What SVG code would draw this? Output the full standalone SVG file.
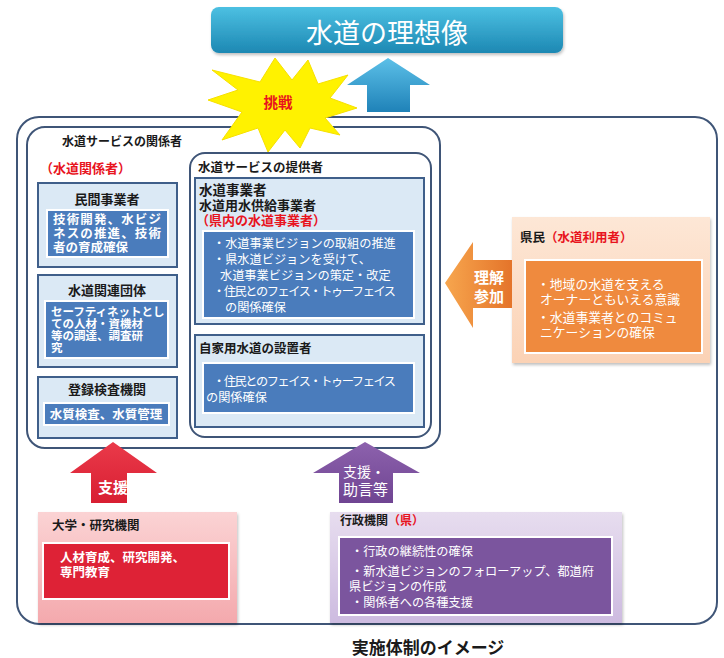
<svg xmlns="http://www.w3.org/2000/svg" width="724" height="658" viewBox="0 0 724 658">
<defs>
<linearGradient id="gTitle" x1="0" y1="0" x2="0" y2="1"><stop offset="0" stop-color="#4cc0e2"/><stop offset="1" stop-color="#1d88b3"/></linearGradient>
<linearGradient id="gBlueArr" x1="0" y1="0" x2="0" y2="1"><stop offset="0" stop-color="#5cc0e8"/><stop offset="1" stop-color="#1f82b8"/></linearGradient>
<linearGradient id="gOrArr" x1="0" y1="0" x2="1" y2="0"><stop offset="0" stop-color="#f7a64e"/><stop offset="1" stop-color="#e4742a"/></linearGradient>
<linearGradient id="gRedArr" x1="0" y1="0" x2="0" y2="1"><stop offset="0" stop-color="#ea3a4a"/><stop offset="1" stop-color="#d81e32"/></linearGradient>
<linearGradient id="gPurArr" x1="0" y1="0" x2="0" y2="1"><stop offset="0" stop-color="#8d62ad"/><stop offset="1" stop-color="#6f4492"/></linearGradient>
<linearGradient id="gPeach" x1="0" y1="0" x2="0" y2="1"><stop offset="0" stop-color="#fde7d6"/><stop offset="1" stop-color="#fbd2b5"/></linearGradient>
<linearGradient id="gPink" x1="0" y1="0" x2="0" y2="1"><stop offset="0" stop-color="#fbd3d4"/><stop offset="1" stop-color="#f4a9ad"/></linearGradient>
<linearGradient id="gLav" x1="0" y1="0" x2="0" y2="1"><stop offset="0" stop-color="#e7ddef"/><stop offset="1" stop-color="#cdbbe0"/></linearGradient>
<filter id="sh" x="-5%" y="-5%" width="110%" height="115%"><feDropShadow dx="1" dy="2" stdDeviation="1.5" flood-color="#000" flood-opacity="0.25"/></filter>
<style>
text{font-family:"Noto Sans CJK JP","Noto Sans",sans-serif;}
.b{font-weight:bold}
.w{fill:#ffffff}
.k{fill:#1a1a1a}
.r{fill:#e8141e}
.frame{fill:#ffffff;stroke:#3f5577;stroke-width:2}
.sub{fill:#dbe9f5;stroke:#3f5f8a;stroke-width:2}
.blue{fill:#4a7cbc;stroke:#ffffff;stroke-width:2}
</style>
</defs>
<rect width="724" height="658" fill="#ffffff"/>

<g id="outer">
<rect class="frame" x="17" y="117" width="700" height="507" rx="22"/>
</g>

<g id="ideal">
<rect x="211" y="7" width="352" height="46" rx="8" fill="url(#gTitle)" filter="url(#sh)"/>
<text x="387" y="43" font-size="27" text-anchor="middle" class="w">水道の理想像</text>
</g>

<g id="stakeholders">
<rect class="frame" x="27" y="127" width="413" height="321" rx="18"/>
<text x="122" y="146" font-size="12" class="b k" text-anchor="middle">水道サービスの関係者</text>
<text x="40" y="173" font-size="13" class="b r">（水道関係者）</text>
</g>

<g id="private">
<rect class="sub" x="38" y="183" width="139" height="84"/>
<text x="107" y="204" font-size="13" class="b k" text-anchor="middle">民間事業者</text>
<rect class="blue" x="47" y="210" width="121" height="47"/>
<text x="53" y="224" font-size="12.5" class="b w" textLength="108">技術開発、水ビジ</text>
<text x="53" y="238" font-size="12.5" class="b w" textLength="108">ネスの推進、技術</text>
<text x="53" y="252" font-size="12.5" class="b w">者の育成確保</text>
</g>

<g id="assoc">
<rect class="sub" x="38" y="275" width="139" height="92"/>
<text x="107" y="295" font-size="13" class="b k" text-anchor="middle">水道関連団体</text>
<rect class="blue" x="45" y="301" width="123" height="57"/>
<text x="51" y="316" font-size="11.5" class="b w">セーフティネットとし</text>
<text x="51" y="328" font-size="11.5" class="b w">ての人材・資機材</text>
<text x="51" y="340" font-size="11.5" class="b w">等の調達、調査研</text>
<text x="51" y="352" font-size="11.5" class="b w">究</text>
</g>

<g id="inspect">
<rect class="sub" x="38" y="377" width="139" height="61"/>
<text x="107" y="394" font-size="13" class="b k" text-anchor="middle">登録検査機関</text>
<rect class="blue" x="44" y="403" width="125" height="22"/>
<text x="106" y="419" font-size="12.5" class="b w" text-anchor="middle">水質検査、水質管理</text>
</g>

<g id="providers">
<rect class="frame" x="190" y="153" width="241" height="284" rx="15"/>
<text x="198" y="172" font-size="12.5" class="b k">水道サービスの提供者</text>
</g>

<g id="utilities">
<rect class="sub" x="195" y="178" width="229" height="146"/>
<text x="199" y="195" font-size="13.5" class="b k">水道事業者</text>
<text x="199" y="210" font-size="13" class="b k">水道用水供給事業者</text>
<text x="196" y="225" font-size="13" class="b r">（県内の水道事業者）</text>
<rect class="blue" x="203" y="231" width="211" height="87"/>
<text x="213" y="248" font-size="12.2" class="w">・水道事業ビジョンの取組の推進</text>
<text x="213" y="264" font-size="12.2" class="w">・県水道ビジョンを受けて、</text>
<text x="220" y="280" font-size="12.2" class="w">水道事業ビジョンの策定・改定</text>
<text x="213" y="296" font-size="12.2" class="w" textLength="183">・住民とのフェイス・トゥーフェイス</text>
<text x="225" y="312" font-size="12.2" class="w">の関係確保</text>
</g>

<g id="private-water">
<rect class="sub" x="195" y="335" width="229" height="92"/>
<text x="199" y="353" font-size="12.5" class="b k">自家用水道の設置者</text>
<rect class="blue" x="203" y="363" width="211" height="50"/>
<text x="213" y="386" font-size="12.2" class="w" textLength="183">・住民とのフェイス・トゥーフェイス</text>
<text x="206" y="402" font-size="12.2" class="w">の関係確保</text>
</g>

<g id="citizens">
<rect x="512" y="217" width="198" height="146" fill="url(#gPeach)" filter="url(#sh)"/>
<text x="520" y="242" font-size="12.5" class="b"><tspan class="k">県民</tspan><tspan class="r">（水道利用者）</tspan></text>
<rect x="525" y="260" width="177" height="93" fill="#ef8a3e" stroke="#ffffff" stroke-width="2"/>
<text x="537" y="289" font-size="12.8" class="w">・地域の水道を支える</text>
<text x="540" y="304" font-size="12.8" class="w">オーナーともいえる意識</text>
<text x="537" y="322" font-size="12.8" class="w">・水道事業者とのコミュ</text>
<text x="540" y="337" font-size="12.8" class="w">ニケーションの確保</text>
</g>

<g id="university">
<rect x="38" y="512" width="199" height="111" fill="url(#gPink)" filter="url(#sh)"/>
<text x="52" y="530" font-size="12.5" class="b k">大学・研究機関</text>
<rect x="43" y="543" width="186" height="56" fill="#de2236" stroke="#ffffff" stroke-width="2"/>
<text x="60" y="562" font-size="12.5" class="b w">人材育成、研究開発、</text>
<text x="60" y="577" font-size="12.5" class="b w">専門教育</text>
</g>

<g id="government">
<rect x="330" y="512" width="292" height="111" fill="url(#gLav)" filter="url(#sh)"/>
<text x="340" y="525" font-size="12" class="b"><tspan class="k">行政機関</tspan><tspan class="r">（県）</tspan></text>
<rect x="339" y="537" width="273" height="78" fill="#7b559e" stroke="#ffffff" stroke-width="2"/>
<text x="351" y="556" font-size="12.2" class="w">・行政の継続性の確保</text>
<text x="351" y="576" font-size="12.2" class="w" textLength="243">・新水道ビジョンのフォローアップ、都道府</text>
<text x="349" y="591" font-size="12.2" class="w">県ビジョンの作成</text>
<text x="351" y="607" font-size="12.2" class="w">・関係者への各種支援</text>
</g>

<g id="connectors">
<g id="challenge">
<polygon points="275,58 292,80 308,60 318,84 348,75 330,98 357,108 325,118 340,135 310,128 300,148 285,130 268,152 258,128 222,140 242,112 208,100 238,90 212,70 260,82" fill="#fff200" stroke="#f7e000" stroke-width="1"/>
<text x="278" y="108" font-size="14.5" class="b r" text-anchor="middle">挑戦</text>
</g>
<polygon id="up-blue" points="388,58 430,85 410,85 410,112 367,112 367,85 347,85" fill="url(#gBlueArr)"/>
<g id="arr-citizens">
<polygon points="445,283 473,242 473,260 512,260 512,308 473,308 473,328" fill="url(#gOrArr)"/>
<text x="489" y="283" font-size="15" class="b w" text-anchor="middle">理解</text>
<text x="489" y="302" font-size="15" class="b w" text-anchor="middle">参加</text>
</g>
<g id="arr-univ">
<polygon points="113,442 157,473 127,473 127,503 91,503 91,473 70,473" fill="url(#gRedArr)"/>
<text x="113" y="493" font-size="15" class="b w" text-anchor="middle">支援</text>
</g>
<g id="arr-gov">
<polygon points="365,442 420,473 393,473 393,503 339,503 339,473 313,473" fill="url(#gPurArr)"/>
<text x="343" y="477" font-size="14" class="w">支援・</text>
<text x="343" y="495" font-size="15" class="w">助言等</text>
</g>
</g>

<g id="caption">
<text x="428" y="654" font-size="17" class="b k" text-anchor="middle">実施体制のイメージ</text>
</g>
</svg>
